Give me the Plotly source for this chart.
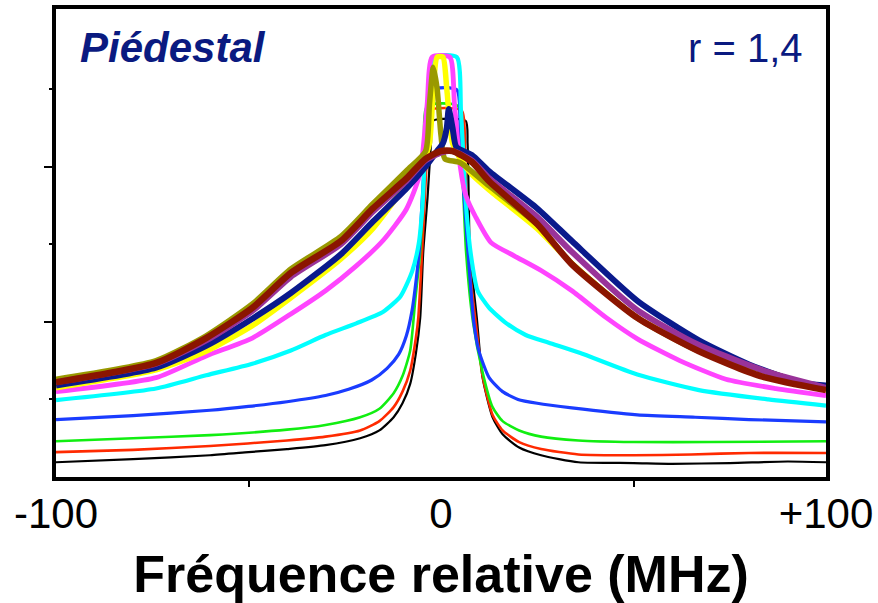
import plotly.graph_objects as go

# ---- data (x: relative frequency in MHz, y: signal, arbitrary units) ----
black_x = [-100, -80, -60, -50, -40, -30, -21, -16, -12.3, -10, -8, -6.5, -5.4, -4.6, -3.5, -2.6, -2.1, 6.4, 6.9, 7.2, 7.5, 9.3, 10.8, 13.4, 16, 20.3, 26, 35.7, 50, 60, 75, 90, 100]
black_y = [0.19, 0.23, 0.28, 0.32, 0.36, 0.41, 0.50, 0.60, 0.77, 0.95, 1.20, 1.60, 2.05, 2.91, 3.60, 4.30, 4.59, 4.59, 4.30, 3.60, 2.91, 2.05, 1.28, 0.77, 0.55, 0.38, 0.28, 0.19, 0.18, 0.17, 0.18, 0.20, 0.19]

red_x = [-100, -80, -60, -40, -30, -21, -16, -12.3, -10, -8, -6.5, -5.9, -4.9, -3.8, -3.1, 5.4, 6.2, 7.0, 9.0, 10.8, 13.4, 16, 20.3, 26, 35.7, 50, 65, 80, 100]
red_y = [0.32, 0.35, 0.40, 0.47, 0.52, 0.60, 0.72, 0.90, 1.10, 1.37, 1.80, 2.05, 2.91, 4.00, 4.72, 4.72, 4.20, 2.91, 2.00, 1.30, 0.80, 0.60, 0.45, 0.36, 0.29, 0.28, 0.29, 0.31, 0.31]

green_x = [-100, -80, -60, -40, -30, -21, -16, -12.3, -10, -8, -6.7, -5.4, -4.3, -3.6, 4.4, 5.3, 6.5, 8.3, 10.8, 13.4, 16, 20.3, 26, 35.7, 50, 70, 100]
green_y = [0.46, 0.50, 0.54, 0.61, 0.67, 0.77, 0.88, 1.08, 1.30, 1.63, 2.27, 2.91, 4.00, 4.78, 4.78, 4.20, 2.91, 2.00, 1.35, 0.90, 0.72, 0.60, 0.52, 0.47, 0.45, 0.45, 0.46]

blue_x = [-100, -80, -60, -50, -40, -30, -24, -18, -14, -11, -9, -7.5, -6.4, -5.6, -4, -2.3, 4.1, 5.0, 7.0, 8.5, 9.8, 12.5, 16, 20, 25, 34, 51, 66, 80, 100]
blue_y = [0.74, 0.79, 0.86, 0.91, 0.97, 1.05, 1.13, 1.25, 1.40, 1.58, 1.82, 2.15, 2.56, 2.95, 4.30, 4.99, 4.99, 4.30, 2.91, 2.00, 1.63, 1.28, 1.10, 1.00, 0.95, 0.89, 0.80, 0.77, 0.74, 0.71]

cyan_x = [-100, -74, -61, -49, -39, -30, -22, -15, -10.5, -7.5, -5.8, -4.8, -3.8, -1.5, 4.1, 5.2, 6.5, 7.8, 9.5, 12.5, 17, 22, 28, 36, 51, 67, 85, 100]
cyan_y = [0.99, 1.14, 1.31, 1.46, 1.63, 1.83, 1.98, 2.13, 2.33, 2.65, 3.00, 3.50, 4.50, 5.41, 5.41, 4.70, 3.50, 2.85, 2.40, 2.18, 1.98, 1.83, 1.73, 1.60, 1.32, 1.12, 1.00, 0.92]

magenta_x = [-100, -74, -61, -49, -39, -30, -22, -15, -9, -5.5, -3.6, -2.3, 2.3, 3.5, 5, 6.5, 9, 13, 19, 26, 34, 43, 51, 62, 74, 87, 100]
magenta_y = [1.10, 1.28, 1.56, 1.79, 2.10, 2.40, 2.72, 3.05, 3.45, 3.90, 4.80, 5.41, 5.41, 4.80, 4.00, 3.62, 3.35, 3.02, 2.85, 2.66, 2.40, 2.05, 1.78, 1.50, 1.26, 1.14, 1.05]

yellow_x = [-100, -74, -61, -49, -39, -26, -17.7, -8.9, -5, -3, -2, -1, 0.5, 1.5, 3, 5, 8, 12.5, 25, 34, 51, 67, 85, 100]
yellow_y = [1.15, 1.38, 1.62, 1.95, 2.31, 2.81, 3.20, 3.77, 4.00, 4.30, 5.00, 5.41, 5.41, 5.00, 4.30, 4.10, 3.90, 3.70, 3.20, 2.75, 2.05, 1.65, 1.35, 1.12]

olive_x = [-100, -74, -61, -49, -39, -26, -17.7, -8.9, -4, -3, -2, -1, 0, 1, 5, 12.5, 25, 34, 51, 67, 85, 100]
olive_y = [1.26, 1.50, 1.82, 2.23, 2.68, 3.10, 3.52, 3.95, 4.20, 4.80, 5.28, 5.00, 4.40, 4.10, 4.05, 3.75, 3.25, 2.75, 2.05, 1.62, 1.35, 1.12]

navy_x = [-100, -74, -61, -49, -39, -26, -17.7, -8.9, -4, -1, 0.5, 1.5, 2, 3, 4, 8, 12.5, 25, 34, 51, 67, 80, 93, 100]
navy_y = [1.18, 1.41, 1.69, 2.04, 2.37, 2.87, 3.29, 3.72, 4.00, 4.20, 4.30, 4.50, 4.74, 4.50, 4.25, 4.15, 3.94, 3.46, 3.04, 2.27, 1.76, 1.45, 1.22, 1.18]

purple_x = [-100, -74, -61, -49, -39, -26, -17.7, -8.9, -4, 0, 3, 8, 12.5, 25, 34, 51, 67, 85, 100]
purple_y = [1.22, 1.46, 1.76, 2.14, 2.58, 3.00, 3.42, 3.82, 4.08, 4.18, 4.20, 4.08, 3.85, 3.35, 2.90, 2.15, 1.70, 1.35, 1.15]

maroon_x = [-100, -74, -61, -49, -39, -26, -17.7, -8.9, -4, 0, 3, 8, 12.5, 25, 34, 51, 67, 83, 100]
maroon_y = [1.22, 1.47, 1.79, 2.18, 2.63, 3.04, 3.46, 3.85, 4.10, 4.20, 4.20, 4.06, 3.81, 3.26, 2.74, 2.05, 1.62, 1.30, 1.12]

series = [
    (black_x, black_y, "#000000", 2.2),
    (red_x, red_y, "#ff2a00", 2.6),
    (green_x, green_y, "#11ee11", 2.6),
    (blue_x, blue_y, "#1a3cff", 3.2),
    (cyan_x, cyan_y, "#00ffff", 4.2),
    (magenta_x, magenta_y, "#ff44ff", 4.8),
    (yellow_x, yellow_y, "#ffff00", 5.5),
    (olive_x, olive_y, "#999900", 5.5),
    (navy_x, navy_y, "#0a1a8c", 6.0),
    (purple_x, purple_y, "#993399", 6.0),
    (maroon_x, maroon_y, "#8b1500", 6.5),
]

x_tickvals = [-100, 0, 100]
x_ticktext = ["-100", "0", "+100"]

FONT = "Liberation Sans, Arial, sans-serif"
L, R, T, B = 56, 50, 5, 126

fig = go.Figure()
for xs, ys, col, w in series:
    fig.add_trace(go.Scatter(x=xs, y=ys, mode="lines",
                             line=dict(color=col, width=w, shape="spline", smoothing=0.6),
                             showlegend=False, hoverinfo="skip"))

pw, ph = 878 - L - R, 603 - T - B


def px_to_paper(px, py):
    return (px - L) / pw, 1 - (py - T) / ph


ax1, ay1 = px_to_paper(78, 44)
ax2, ay2 = px_to_paper(807, 44)

fig.update_layout(
    width=878, height=603,
    margin=dict(l=L, r=R, t=T, b=B),
    paper_bgcolor="white", plot_bgcolor="white",
    font=dict(family=FONT, color="black"),
    xaxis=dict(
        range=[-100, 100], showgrid=False, zeroline=False,
        showline=True, linecolor="black", linewidth=4, mirror=True,
        tickvals=x_tickvals, ticktext=x_ticktext, ticks="",
        tickfont=dict(size=42, family=FONT, color="black"),
        ticklabelstandoff=-3, ticklabeloverflow="allow",
        minor=dict(tickvals=[-50, 50], ticks="outside", ticklen=6,
                   tickwidth=2, tickcolor="black"),
        title=dict(text="<b>Fréquence relative (MHz)</b>",
                   font=dict(size=52, family=FONT, color="black"),
                   standoff=20),
    ),
    yaxis=dict(
        range=[0, 6.03], showgrid=False, zeroline=False,
        showline=True, linecolor="black", linewidth=4, mirror=True,
        tickvals=[2, 4], ticks="outside", ticklen=8, tickwidth=2,
        tickcolor="black", showticklabels=False,
        minor=dict(tickvals=[1, 3, 5], ticks="outside", ticklen=3,
                   tickwidth=2, tickcolor="black"),
    ),
    annotations=[
        dict(text="<b><i>Piédestal</i></b>", x=ax1, y=ay1, xref="paper",
             yref="paper", showarrow=False, xanchor="left", yanchor="middle",
             font=dict(size=42, family=FONT, color="#0a1a80")),
        dict(text="r = 1,4", x=ax2, y=ay2, xref="paper", yref="paper",
             showarrow=False, xanchor="right", yanchor="middle",
             font=dict(size=40, family=FONT, color="#0a1a80")),
    ],
)

fig.write_html("out.html")
